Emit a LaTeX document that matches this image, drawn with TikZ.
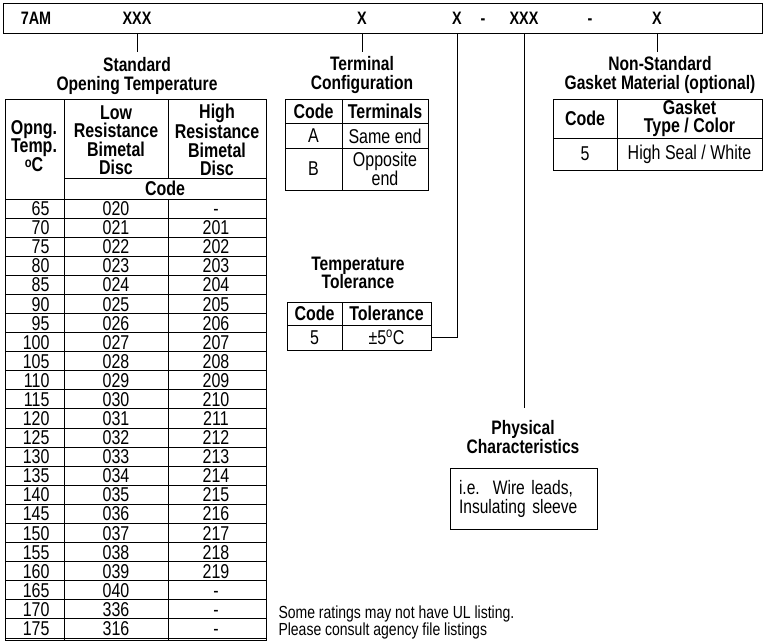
\documentclass[tikz,border=0pt]{standalone}
\usepackage{fontspec}
\setmainfont[FakeStretch=0.8]{Liberation Sans}
\begin{document}
\begin{tikzpicture}[x=1pt,y=-1pt,line width=1pt,
  barlbl/.style={font=\fontsize{18}{18}\selectfont\bfseries, inner sep=0pt, anchor=base},
  ttl/.style={font=\fontsize{19.5}{18.5}\selectfont\bfseries, align=center, inner sep=0pt},
  hd/.style={font=\fontsize{20}{18.5}\selectfont\bfseries, align=center, inner sep=0pt},
  cell/.style={font=\fontsize{20}{18}\selectfont, inner sep=0pt},
  cellc/.style={font=\fontsize{20}{18}\selectfont, align=center, inner sep=0pt},
  note/.style={font=\fontsize{17.5}{17.5}\selectfont, align=left, inner sep=0pt}]
\useasboundingbox (0,0) rectangle (763,643);

% ---- code bar
\node[draw, anchor=north west, minimum width=759pt, minimum height=30pt, inner sep=0pt] (codebar) at (3,3) {};
\node[barlbl] (l7am) at (36,24) {7AM};
\node[barlbl] (lxxa) at (137,24) {XXX};
\node[barlbl] (lxa) at (362,24) {X};
\node[barlbl] (lxb) at (457,24) {X};
\node[barlbl] (lda) at (483,24) {-};
\node[barlbl] (lxxb) at (524,24) {XXX};
\node[barlbl] (ldb) at (590,24) {-};
\node[barlbl] (lxc) at (657,24) {X};

% ---- standard opening temperature
\coordinate (stdE) at (137,52);
\draw (lxxa |- codebar.south) -- (stdE);
\node[ttl] (stdT) at (137,76) {Standard\\Opening Temperature};

\draw (5,99) rectangle (266,640);
\draw (64,99) -- (64,640);
\draw (168,99) -- (168,178);
\draw (168,199) -- (168,640);
\draw (64,178) -- (266,178);
\draw (5,199) -- (266,199);
\node[hd] (hOp) at (34,146) {Opng.\\Temp.\\\raisebox{4pt}{\fontsize{14}{14}\selectfont o}C};
\node[hd] (hLow) at (116,140) {Low\\Resistance\\Bimetal\\Disc};
\node[hd] (hHigh) at (217,140) {High\\Resistance\\Bimetal\\Disc};
\node[hd] (hCode) at (165,188) {Code};

\foreach \t/\a/\b [count=\i from 0] in {65/020/-,70/021/201,75/022/202,80/023/203,85/024/204,90/025/205,95/026/206,100/027/207,105/028/208,110/029/209,115/030/210,120/031/211,125/032/212,130/033/213,135/034/214,140/035/215,145/036/216,150/037/217,155/038/218,160/039/219,165/040/-,170/336/-,175/316/-}{
  \pgfmathsetmacro\yb{199+(\i+1)*19.087}
  \node[cell, anchor=base east] (ra\i) at (50,\yb-2.5) {\t};
  \node[cell, anchor=base] (rb\i) at (116,\yb-2.5) {\a};
  \node[cell, anchor=base] (rc\i) at (216,\yb-2.5) {\b};
  \draw (5,\yb) -- (266,\yb);
}

% ---- terminal configuration
\coordinate (termE) at (362,52);
\draw (lxa |- codebar.south) -- (termE);
\node[ttl] (termT) at (362,75) {Terminal\\Configuration};
\draw (285,99) rectangle (428,190);
\draw (342,99) -- (342,190);
\draw (285,123) -- (428,123);
\draw (285,148) -- (428,148);
\node[hd] (tc1) at (313.5,111) {Code};
\node[hd] (tc2) at (385,111) {Terminals};
\node[cell] (tA) at (313.5,136) {A};
\node[cell] (tAv) at (385,136) {Same end};
\node[cell] (tB) at (313.5,169) {B};
\node[cellc] (tBv) at (385,169) {Opposite\\end};

% ---- temperature tolerance
\node[ttl] (tolT) at (358,273) {Temperature\\Tolerance};
\draw (287,302) rectangle (431,350);
\draw (342,302) -- (342,350);
\draw (287,325) -- (431,325);
\node[hd] (tl1) at (314.5,313.5) {Code};
\node[hd] (tl2) at (386.5,313.5) {Tolerance};
\node[cell] (tl5) at (314.5,337.5) {5};
\node[cell] (tlv) at (386.5,337.5) {±5\textsuperscript{o}C};
\coordinate (tolR) at (431,337.5);
\draw (tolR) -| (lxb |- codebar.south);

% ---- physical characteristics
\coordinate (physE) at (524,408);
\draw (lxxb |- codebar.south) -- (physE);
\node[ttl] (physT) at (523,437) {Physical\\Characteristics};
\node[draw, anchor=north west, minimum width=147pt, minimum height=61pt, text width=130pt, inner xsep=8.5pt, align=left, font=\fontsize{19.5}{19}\selectfont] (physB) at (450,468) {i.e.\ \ Wire leads,\\Insulating sleeve};

% ---- gasket
\coordinate (gasE) at (657,52);
\draw (lxc |- codebar.south) -- (gasE);
\node[ttl] (gasT) at (660,75) {Non-Standard\\Gasket Material (optional)};
\draw (553,99) rectangle (762,170);
\draw (617,99) -- (617,170);
\draw (553,138) -- (762,138);
\node[hd] (gc1) at (585,118.5) {Code};
\node[hd] (gc2) at (689.5,118.5) {Gasket\\Type / Color};
\node[cell] (g5) at (585,154) {5};
\node[cell] (g5v) at (689.5,154) {High Seal / White};

% ---- note
\node[note, anchor=north west] (noteN) at (278,605) {Some ratings may not have UL listing.\\Please consult agency file listings};
\end{tikzpicture}
\end{document}
